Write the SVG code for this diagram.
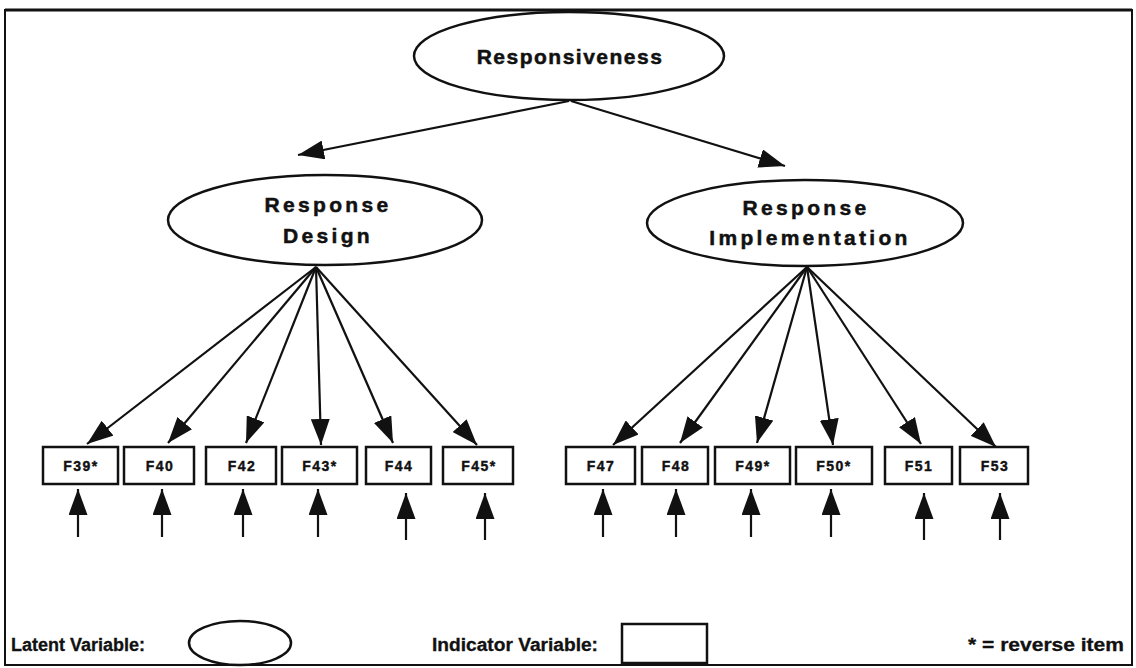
<svg xmlns="http://www.w3.org/2000/svg" width="1136" height="668" viewBox="0 0 1136 668">
  <style>
    .frame { fill: none; stroke: #111; stroke-width: 2; }
    .latent { fill: #fff; stroke: #111; stroke-width: 2.5; }
    .indicator { fill: #fff; stroke: #111; stroke-width: 2.5; }
    .conn { stroke: #111; stroke-width: 2.2; fill: none; }
    .lbl { font-family: "Liberation Sans", Arial, sans-serif; font-weight: bold; font-size: 21px; letter-spacing: 3.3px; fill: #111; stroke: #111; stroke-width: 0.5; text-anchor: middle; }
    .item { font-family: "Liberation Sans", Arial, sans-serif; font-weight: bold; font-size: 14px; letter-spacing: 1.5px; fill: #111; stroke: #111; stroke-width: 0.4; text-anchor: middle; }
    .legend { font-family: "Liberation Sans", Arial, sans-serif; font-weight: bold; font-size: 18px; fill: #111; stroke: #111; stroke-width: 0.3; }
  </style>
  <defs>
    <marker id="head" viewBox="0 0 26 19" refX="26" refY="9.5" markerWidth="26" markerHeight="19" markerUnits="userSpaceOnUse" orient="auto">
      <path d="M0,0 L26,9.5 L0,19 Z" fill="#111"/>
    </marker>
  </defs>

  <rect width="1136" height="668" fill="#fff"/>
  <!-- outer border -->
  <rect class="frame" x="5" y="10" width="1127" height="655"/>
  <line x1="5" y1="10" x2="1132" y2="10" stroke="#111" stroke-width="3"/>

  <!-- connectors -->
  <g id="connectors" class="conn" marker-end="url(#head)">
    <!-- second-order factor to first-order factors -->
    <line x1="569" y1="101" x2="298" y2="155"/>
    <line x1="571" y1="101" x2="785" y2="166"/>
    <!-- Response Design loadings -->
    <line x1="316" y1="267" x2="87" y2="444"/>
    <line x1="316" y1="267" x2="168" y2="443"/>
    <line x1="316" y1="267" x2="246" y2="443"/>
    <line x1="316" y1="267" x2="321" y2="445"/>
    <line x1="316" y1="267" x2="393" y2="443"/>
    <line x1="316" y1="267" x2="477" y2="445"/>
    <!-- Response Implementation loadings -->
    <line x1="807" y1="267" x2="613" y2="445"/>
    <line x1="807" y1="267" x2="680" y2="443"/>
    <line x1="807" y1="267" x2="757" y2="443"/>
    <line x1="807" y1="267" x2="833" y2="445"/>
    <line x1="807" y1="267" x2="921" y2="444"/>
    <line x1="807" y1="267" x2="996" y2="447"/>
    <!-- error terms -->
    <line x1="78" y1="537" x2="78" y2="489"/>
    <line x1="162" y1="537" x2="162" y2="489"/>
    <line x1="243" y1="537" x2="243" y2="489"/>
    <line x1="318" y1="537" x2="318" y2="489"/>
    <line x1="406" y1="540" x2="406" y2="493"/>
    <line x1="485" y1="540" x2="485" y2="493"/>
    <line x1="603" y1="537" x2="603" y2="489"/>
    <line x1="676" y1="537" x2="676" y2="489"/>
    <line x1="751" y1="537" x2="751" y2="489"/>
    <line x1="831" y1="537" x2="831" y2="489"/>
    <line x1="924" y1="540" x2="924" y2="493"/>
    <line x1="1000" y1="540" x2="1000" y2="493"/>
  </g>

  <!-- latent variables -->
  <g id="responsiveness">
    <ellipse class="latent" cx="569" cy="56" rx="155" ry="44"/>
    <text class="lbl" x="570" y="64" style="letter-spacing:1.5px">Responsiveness</text>
  </g>
  <g id="response-design">
    <ellipse class="latent" cx="325" cy="220" rx="157" ry="45"/>
    <text class="lbl" x="328" y="212">Response</text>
    <text class="lbl" x="328" y="243">Design</text>
  </g>
  <g id="response-implementation">
    <ellipse class="latent" cx="805" cy="223" rx="158" ry="43"/>
    <text class="lbl" x="806" y="215">Response</text>
    <text class="lbl" x="810" y="245">Implementation</text>
  </g>

  <!-- indicator variables -->
  <g id="F39"><rect class="indicator" x="43" y="447" width="75" height="37"/><text class="item" x="81" y="471">F39*</text></g>
  <g id="F40"><rect class="indicator" x="124" y="447" width="70" height="37"/><text class="item" x="160" y="471">F40</text></g>
  <g id="F42"><rect class="indicator" x="206" y="447" width="70" height="37"/><text class="item" x="242" y="471">F42</text></g>
  <g id="F43"><rect class="indicator" x="282" y="447" width="75" height="37"/><text class="item" x="320" y="471">F43*</text></g>
  <g id="F44"><rect class="indicator" x="366" y="447" width="65" height="37"/><text class="item" x="399" y="471">F44</text></g>
  <g id="F45"><rect class="indicator" x="443" y="447" width="70" height="37"/><text class="item" x="479" y="471">F45*</text></g>
  <g id="F47"><rect class="indicator" x="566" y="447" width="69" height="37"/><text class="item" x="601" y="471">F47</text></g>
  <g id="F48"><rect class="indicator" x="642" y="447" width="66" height="37"/><text class="item" x="676" y="471">F48</text></g>
  <g id="F49"><rect class="indicator" x="715" y="447" width="75" height="37"/><text class="item" x="753" y="471">F49*</text></g>
  <g id="F50"><rect class="indicator" x="796" y="447" width="76" height="37"/><text class="item" x="834" y="471">F50*</text></g>
  <g id="F51"><rect class="indicator" x="885" y="447" width="67" height="37"/><text class="item" x="919" y="471">F51</text></g>
  <g id="F53"><rect class="indicator" x="960" y="447" width="68" height="37"/><text class="item" x="995" y="471">F53</text></g>

  <!-- legend -->
  <g id="legend">
    <text class="legend" x="11" y="651">Latent Variable:</text>
    <ellipse class="latent" cx="240" cy="643" rx="51" ry="22"/>
    <text class="legend" x="432" y="651" textLength="166" lengthAdjust="spacingAndGlyphs">Indicator Variable:</text>
    <rect class="indicator" x="622" y="624" width="85" height="39"/>
    <text class="legend" x="968" y="651" textLength="156" lengthAdjust="spacingAndGlyphs">* = reverse item</text>
  </g>
</svg>
